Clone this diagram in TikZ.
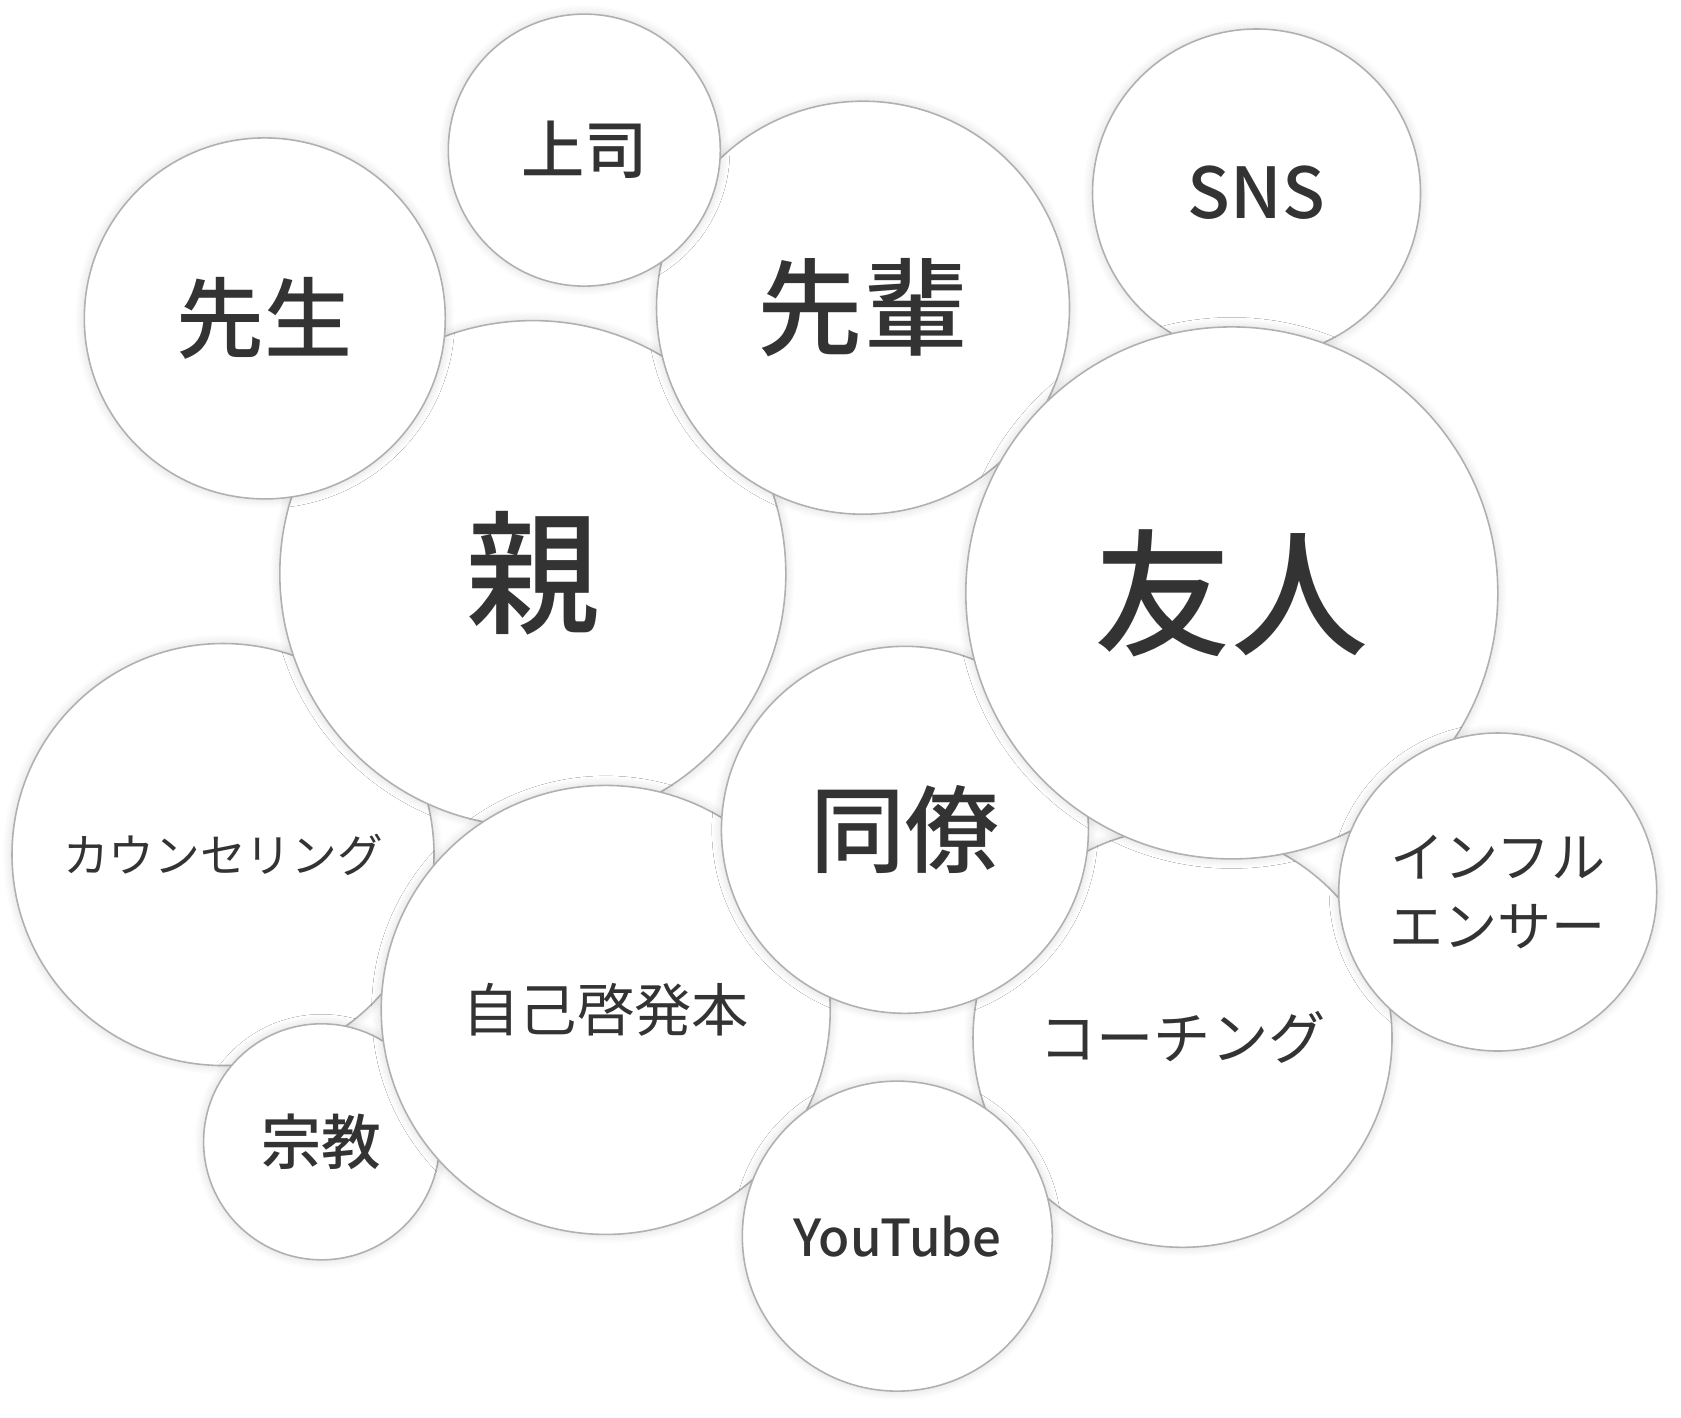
\documentclass[tikz,border=0pt]{standalone}
\usepackage{fontspec}
\setmainfont{Noto Sans CJK JP}
\newfontfamily\medfont{Noto Sans CJK JP Medium}
\usepackage{xcolor}
\usetikzlibrary{shadows.blur}
\definecolor{bubbleline}{HTML}{B0B0B0}
\definecolor{bubbletext}{HTML}{333333}
\tikzset{
  bubble/.style={
    circle, draw=bubbleline, line width=0.45pt, fill=white,
    inner sep=0pt, align=center, text=bubbletext,
    blur shadow={shadow xshift=0pt, shadow yshift=0pt,
      shadow scale=1.0, shadow opacity=16, shadow blur steps=8,
      shadow blur radius=0.5ex}
  },
}

\begin{document}
\begin{tikzpicture}[x=1cm, y=1cm]
  \useasboundingbox (0,0) rectangle (16.81,-14.17);

  % --- lower layer ---
  \node[bubble, minimum size=4.22cm, font=\fontsize{13pt}{16pt}\selectfont]
    (counsel) at (2.23,-8.545) {カウンセリング};
  \node[bubble, minimum size=5.06cm, font=\medfont\fontsize{38pt}{44pt}\selectfont]
    (oya) at (5.328,-5.736) {親};
  \node[bubble, minimum size=3.61cm, font=\medfont\fontsize{25pt}{30pt}\selectfont]
    (sensei) at (2.648,-3.184) {先生};
  \node[bubble, minimum size=4.13cm, font=\medfont\fontsize{30pt}{36pt}\selectfont]
    (senpai) at (8.63,-3.077) {先輩};
  \node[bubble, minimum size=2.72cm, font=\medfont\fontsize{18pt}{22pt}\selectfont]
    (joushi) at (5.843,-1.501) {上司};
  \node[bubble, minimum size=3.28cm, font=\medfont\fontsize{20pt}{24pt}\selectfont]
    (sns) at (12.565,-1.93) {SNS};

  % --- middle layer ---
  \node[bubble, minimum size=2.36cm, font=\medfont\fontsize{17pt}{21pt}\selectfont]
    (shuukyou) at (3.216,-11.418) {宗教};
  \node[bubble, minimum size=4.49cm, font=\fontsize{16.3pt}{20pt}\selectfont]
    (jiko) at (6.057,-10.099) {自己啓発本};
  \node[bubble, minimum size=4.19cm, font=\fontsize{16.3pt}{20pt}\selectfont]
    (coaching) at (11.825,-10.378) {コーチング};
  \node[bubble, minimum size=3.67cm, font=\medfont\fontsize{27pt}{32pt}\selectfont]
    (douryou) at (9.049,-8.298) {同僚};

  % --- upper layer ---
  \node[bubble, minimum size=5.32cm, font=\medfont\fontsize{39pt}{46pt}\selectfont]
    (yuujin) at (12.318,-5.929) {友人};
  \node[bubble, minimum size=3.18cm, font=\fontsize{15.4pt}{19.5pt}\selectfont]
    (influencer) at (14.977,-8.92) {インフル\\エンサー};
  \node[bubble, minimum size=3.1cm, font=\medfont\fontsize{14.5pt}{18pt}\selectfont]
    (youtube) at (8.973,-12.361) {YouTube};
\end{tikzpicture}
\end{document}
